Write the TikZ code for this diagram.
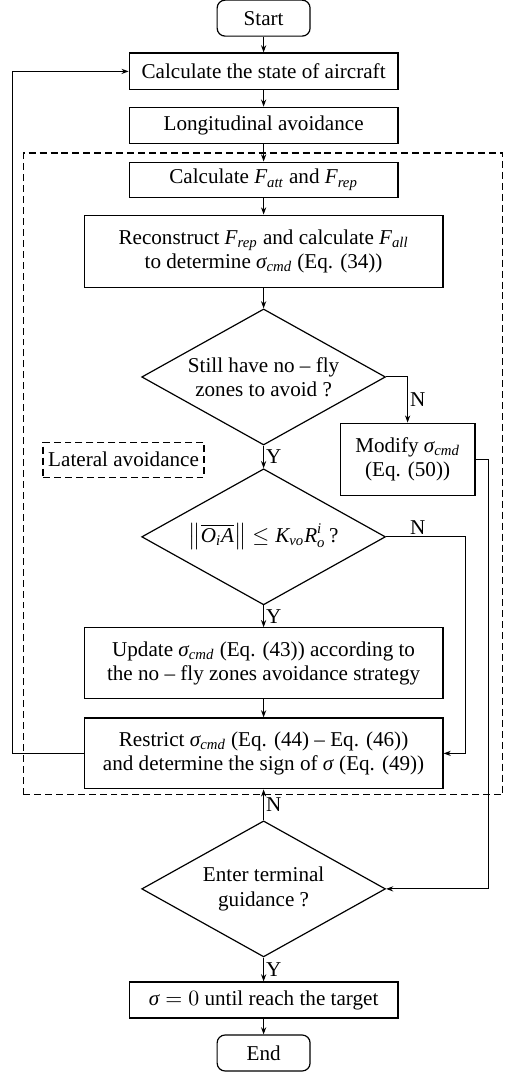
\documentclass[tikz,border=0pt]{standalone}
\usepackage{amsmath}
\usepackage{fontspec}
\setmainfont{Liberation Serif}
\usetikzlibrary{shapes.geometric,arrows.meta}
\newcommand{\vi}[1]{\textit{#1}}

\begin{document}
\begin{tikzpicture}[x=1cm,y=1cm,
  font=\fontsize{10.6}{12.2}\selectfont,
  line width=0.6pt,
  >={Stealth[length=3.6pt,width=2.6pt]},
  proc/.style={draw,rectangle,align=center,inner sep=1pt},
  term/.style={draw,rectangle,rounded corners=4pt,minimum width=1.64cm,minimum height=0.635cm},
  decide/.style={draw,diamond,aspect=1.78,inner sep=0pt,align=center,minimum width=4.30cm,minimum height=2.40cm},
  grp/.style={dash pattern=on 3.5pt off 2pt},
  flow/.style={->,line width=0.5pt},
  yn/.style={inner sep=1pt}]
\path[use as bounding box] (0,0) rectangle (9.08,18.91);
% lateral avoidance frame
\draw[grp] (0.42,4.89) rectangle (8.87,16.21);
\node[term] (start) at (4.65,18.59) {Start};
\node[proc,minimum width=4.74cm,minimum height=0.65cm] (state) at (4.65,17.65) {Calculate the state of aircraft};
\node[proc,minimum width=4.74cm,minimum height=0.635cm] (longi) at (4.65,16.70) {Longitudinal avoidance};
\node[proc,minimum width=4.74cm,minimum height=0.62cm] (forces) at (4.65,15.74) {Calculate $\vi{F}_{\vi{att}}$ and $\vi{F}_{\vi{rep}}$};
\node[proc,minimum width=6.33cm,minimum height=1.27cm] (recon) at (4.65,14.48) {Reconstruct $\vi{F}_{\vi{rep}}$ and calculate $\vi{F}_{\vi{all}}$\\to determine $\vi{σ}_{\vi{cmd}}$ (Eq. (34))};
\node[decide] (nfz) at (4.65,12.26) {Still have no -- fly\\zones to avoid ?};
\node[proc,minimum width=2.38cm,minimum height=1.27cm] (modify) at (7.19,10.81) {Modify $\vi{σ}_{\vi{cmd}}$\\(Eq. (50))};
\node[proc,draw,grp,minimum width=2.84cm,minimum height=0.62cm] (lateral) at (2.18,10.80) {Lateral avoidance};
\node[decide] (inside) at (4.65,9.44) {$\left\|\overline{\vi{O}_{\vi{i}}\vi{A}}\right\|\le \vi{K}_{\vi{vo}}\vi{R}_{\vi{o}}^{\vi{i}}$\,?};
\node[proc,minimum width=6.33cm,minimum height=1.25cm] (update) at (4.65,7.21) {Update $\vi{σ}_{\vi{cmd}}$ (Eq. (43)) according to\\the no -- fly zones avoidance strategy};
\node[proc,minimum width=6.33cm,minimum height=1.25cm] (restrict) at (4.65,5.62) {Restrict $\vi{σ}_{\vi{cmd}}$ (Eq. (44) -- Eq. (46))\\and determine the sign of \vi{σ} (Eq. (49))};
\node[decide] (enter) at (4.65,3.23) {Enter terminal\\guidance ?};
\node[proc,minimum width=4.74cm,minimum height=0.635cm] (zero) at (4.65,1.27) {$\vi{σ}=0$ until reach the target};
\node[term] (stop) at (4.65,0.335) {End};
% connectors
\draw[flow] (start) -- (state);
\draw[flow] (state) -- (longi);
\draw[flow] (longi) -- (forces);
\draw[flow] (forces) -- (recon);
\draw[flow] (recon) -- (nfz);
\draw[flow] (nfz.east) -| node[yn,pos=0.75,right] {N} (modify.north);
\draw[flow] (nfz.south) -- node[yn,right] {Y} (inside.north);
\draw[flow] (inside.east) -- node[yn,pos=0.4,above] {N} ++(1.40,0) |- (restrict.east);
\draw[flow] (inside.south) -- node[yn,right] {Y} (update.north);
\draw[flow] (update) -- (restrict);
\draw[flow] (restrict.west) -- ++(-1.25,0) |- (state.west);
\draw[flow] (modify.east) -- ++(0.23,0) |- (enter.east);
\draw[flow] (enter.north) -- node[yn,right] {N} (restrict.south);
\draw[flow] (enter.south) -- node[yn,right] {Y} (zero.north);
\draw[flow] (zero) -- (stop);
\end{tikzpicture}
\end{document}
